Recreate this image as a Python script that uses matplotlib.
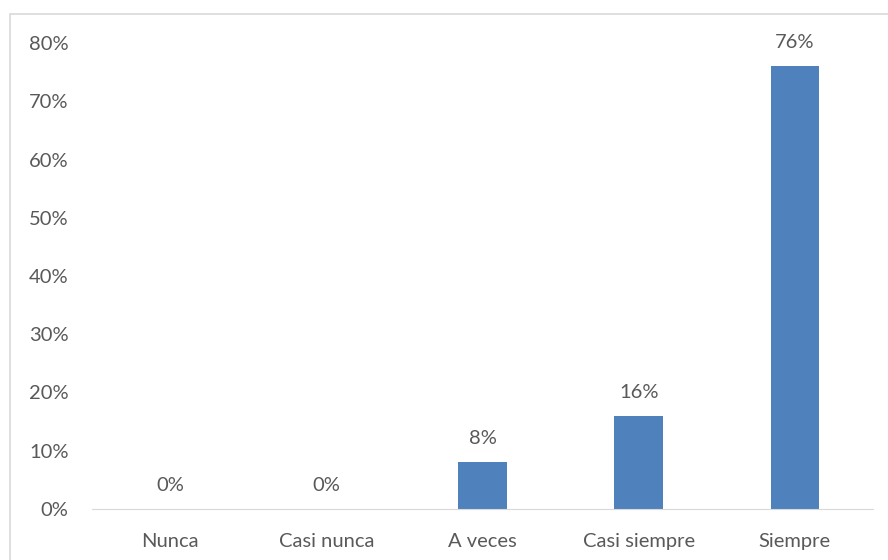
import matplotlib.pyplot as plt
from matplotlib.patches import Rectangle

categories = ['Nunca', 'Casi nunca', 'A veces', 'Casi siempre', 'Siempre']
values = [0, 0, 8, 16, 76]
y_ticks = [0, 10, 20, 30, 40, 50, 60, 70, 80]

plt.rcParams['font.family'] = ['Lato', 'DejaVu Sans']
text_color = '#595959'

fig = plt.figure(figsize=(8.88, 5.6), dpi=100)
ax = fig.add_axes([0.1036, 0.0911, 0.8795, 0.8321])

x = list(range(len(categories)))
ax.bar(x, values, width=0.31, color='#4F81BD')
for xi, v in zip(x, values):
    ax.text(xi, v + 2.6, f'{v}%', ha='center', va='bottom', fontsize=14.5, color=text_color)

ax.set_xlim(-0.5, len(categories) - 0.5)
ax.set_ylim(0, 80)
ax.set_yticks(y_ticks)
ax.set_yticklabels([f'{t}%' for t in y_ticks])
ax.set_xticks(x)
ax.set_xticklabels(categories)
ax.tick_params(axis='both', length=0, labelsize=14.5, labelcolor=text_color)
ax.tick_params(axis='y', pad=17)
ax.tick_params(axis='x', pad=17)

for s in ['top', 'right', 'left']:
    ax.spines[s].set_visible(False)
ax.spines['bottom'].set_color('#D9D9D9')

# chart area border, cropped at the right and bottom
fig.patches.append(Rectangle((10 / 888, -0.1), 1.2, 0.1 + 1 - 14 / 560, transform=fig.transFigure,
                             fill=False, edgecolor='#D9D9D9', linewidth=1.2))

fig.savefig('out.png', dpi=100)
